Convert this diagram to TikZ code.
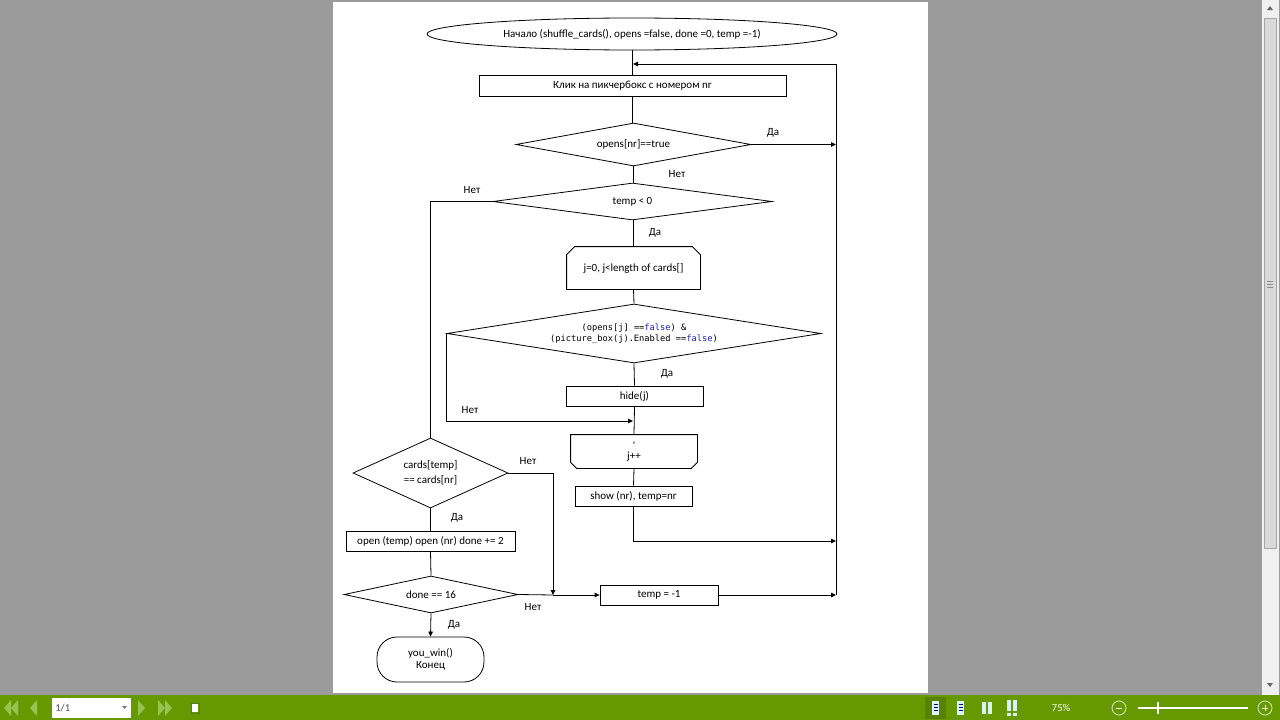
\documentclass[tikz,border=0pt]{standalone}
\usepackage{fontspec}
\setmainfont{Carlito}
\newfontfamily\codefont{DejaVu Sans Mono}
\usetikzlibrary{shapes.geometric,shapes.misc,arrows.meta,calc}
\definecolor{bggray}{RGB}{155,155,155}
\definecolor{barGreen}{RGB}{102,153,0}
\definecolor{iconGreen}{RGB}{150,196,80}
\definecolor{codeBlue}{RGB}{30,30,190}
\newcommand{\fs}{\fontsize{11}{12.5}\selectfont}
\newcommand{\cs}{\codefont\fontsize{8.7}{11}\selectfont}
\newcommand{\kw}[1]{\textcolor{codeBlue}{#1}}
\begin{document}
\begin{tikzpicture}[x=1pt,y=-1pt,line width=0.8pt,
  box/.style={draw, rectangle, inner sep=0pt, font=\fs},
  dia/.style={draw, diamond, inner sep=0pt, font=\fs, align=center},
  ghost/.style={rectangle, inner sep=0pt, font=\fs, align=center},
  lbl/.style={inner sep=0pt, font=\fs},
  arr/.style={-{Triangle[length=5pt,width=4.5pt]}},
  tb/.style={inner sep=0pt, font=\fontsize{10.5}{12}\selectfont}]
% ---------- viewer background ----------
\fill[bggray] (0,0) rectangle (1280,720);
\fill[white] (333,2) rectangle (928,693);
% vertical scrollbar
\fill[black!6] (1262,0) rectangle (1279,695);
\fill[black!15] (1264,18) rectangle (1276,548);
\draw[black!35, line width=0.5pt] (1264,18) rectangle (1276,548);
\draw[black!45, line width=0.5pt] (1267,281) -- (1273,281) (1267,284) -- (1273,284) (1267,287) -- (1273,287);
\fill[black!60] (1267,10) -- (1273,10) -- (1270,6) -- cycle;
\fill[black!60] (1267,683) -- (1273,683) -- (1270,687) -- cycle;
% bottom toolbar
\fill[barGreen] (0,695) rectangle (1280,720);
\fill[iconGreen] (11,700) -- (11,716) -- (4,708) -- cycle;
\fill[iconGreen] (18,700) -- (18,716) -- (11,708) -- cycle;
\fill[iconGreen] (37,700) -- (37,716) -- (30,708) -- cycle;
\fill[white] (52,698) rectangle (131,718);
\node[tb, anchor=west, text=black!70] (pg) at (55,708) {1/1};
\fill[black!50] (122,706) -- (127,706) -- (124.5,709) -- cycle;
\fill[iconGreen] (138,700) -- (138,716) -- (145,708) -- cycle;
\fill[iconGreen] (158,700) -- (158,716) -- (165,708) -- cycle;
\fill[iconGreen] (165,700) -- (165,716) -- (172,708) -- cycle;
\draw[iconGreen!60!black, line width=0.6pt] (191,703) rectangle (199,713);
\fill[white] (192,704) rectangle (198,712);
\fill[barGreen!85!black] (925,697) rectangle (946,719);
\foreach \px in {932,957} {
  \fill[white!85!cyan] (\px,701) rectangle (\px+7,715);
  \foreach \ly in {704,707,710} \draw[blue!50!black, line width=0.5pt] (\px+1.5,\ly) -- (\px+5.5,\ly);
}
\fill[white!85!cyan] (982,702) rectangle (986,714);
\fill[white!85!cyan] (988,702) rectangle (992,714);
\fill[white!85!cyan] (1007,700) rectangle (1011,711);
\fill[white!85!cyan] (1013,700) rectangle (1017,711);
\fill[white!85!cyan] (1007,713) rectangle (1011,716);
\fill[white!85!cyan] (1013,713) rectangle (1017,716);
\node[tb, text=white] (zoomtxt) at (1061,708) {75\%};
\draw[white!80!barGreen, line width=0.8pt] (1119,708) circle (7);
\draw[white, line width=1pt] (1116,708) -- (1122,708);
\draw[white, line width=1.2pt] (1138,708) -- (1248,708);
\draw[white, line width=1.5pt] (1158,702) -- (1158,714);
\draw[white!80!barGreen, line width=0.8pt] (1265,708) circle (7);
\draw[white, line width=1pt] (1262,708) -- (1268,708) (1265,705) -- (1265,711);
% ---------- flowchart nodes ----------
\node[draw, ellipse, minimum width=410pt, minimum height=32pt, inner sep=0pt, font=\fs] (start) at (632,34)
  {Начало (shuffle\_cards(), opens =false, done =0, temp =-1)};
\node[box, minimum width=307pt, minimum height=21pt] (click) at (632.5,85.5) {Клик на пикчербокс с номером nr};
\node[dia, minimum width=235pt, minimum height=43pt, shape aspect=5.5] (d1) at (633.5,144.5) {opens[nr]==true};
\node[dia, minimum width=279pt, minimum height=37pt, shape aspect=7.5] (d2) at (632.5,201.5) {temp < 0};
\node[ghost, minimum width=133pt, minimum height=42pt] (loopA) at (633.5,268) {j=0, j<length of cards[]};
\node[dia, minimum width=374pt, minimum height=59pt, shape aspect=6.3, font=\cs] (d3) at (634,333.5)
  {(opens[j] ==\kw{false}) \&\\(picture\_box(j).Enabled ==\kw{false})};
\node[box, minimum width=137pt, minimum height=20pt] (hide) at (634.5,396) {hide(j)};
\node[ghost, minimum width=126pt, minimum height=33pt] (loopB) at (634,451.5) {`\\[-2pt]j++};
\node[box, minimum width=117pt, minimum height=20pt] (show) at (633.5,496) {show (nr), temp=nr};
\node[dia, minimum width=155pt, minimum height=70pt, shape aspect=2.2] (d4) at (430.5,473) {cards[temp]\\[3pt]== cards[nr]};
\node[box, minimum width=169pt, minimum height=20pt] (open) at (430.5,541) {open (temp) open (nr) done += 2};
\node[dia, minimum width=174pt, minimum height=37pt, shape aspect=4.7] (d5) at (431,594.5) {done == 16};
\node[draw, rectangle, rounded corners=20pt, minimum width=107pt, minimum height=45pt, inner sep=0pt, font=\fs, align=center] (win) at (430.5,659.5) {you\_win()\\Конец};
\node[box, minimum width=118pt, minimum height=20pt] (tmp) at (659,595) {temp = -1};
% chamfered loop boxes
\draw (loopA.south west) -- ($(loopA.north west)+(0,8)$) -- ($(loopA.north west)+(8,0)$)
  -- ($(loopA.north east)+(-8,0)$) -- ($(loopA.north east)+(0,8)$) -- (loopA.south east) -- cycle;
\draw (loopB.north west) -- ($(loopB.south west)+(0,-6)$) -- ($(loopB.south west)+(6,0)$)
  -- ($(loopB.south east)+(-6,0)$) -- ($(loopB.south east)+(0,-6)$) -- (loopB.north east) -- cycle;
% ---------- helper coordinates ----------
\coordinate (railT) at (836,64);
\coordinate (railB) at (836,595);
\coordinate (join1) at (633,64);
\coordinate (join2) at (633,421);
\coordinate (r541) at (836,541);
\coordinate (j3) at (553,595);
% ---------- connectors ----------
\draw (start.south) -- (start.south |- click.north);
\draw (click.south) -- (click.south |- d1.north);
\draw (railB) -- (railT);
\draw[arr] (railT) -- (join1);
\draw[arr] (d1.east) -- (d1.east -| railT);
\draw (d1.south) -- (d1.south |- d2.north);
\draw (d2.west) -| (d4.north);
\draw (d2.south) -- (d2.south -| loopA.north) -- (loopA.north);
\draw (loopA.south) -- (d3.north);
\draw (d3.south) -- (hide.north);
\draw (hide.south) -- (loopB.north);
\draw[arr] (d3.west) |- (join2);
\draw (loopB.south) -- (show.north);
\draw[arr] (show.south) |- (r541);
\draw[arr] (d4.east) -| (j3);
\draw (d4.south) -- (open.north);
\draw (open.south) -- (d5.north);
\draw (d5.east) -- (j3);
\draw[arr] (j3) -- (tmp.west);
\draw[arr] (d5.south) -- (win.north);
\draw[arr] (tmp.east) -- (railB);
% ---------- connector labels ----------
\node[lbl] (l1) at (773,133) {Да};
\node[lbl] (l2) at (677,174) {Нет};
\node[lbl] (l3) at (472,190) {Нет};
\node[lbl] (l4) at (655,233) {Да};
\node[lbl] (l5) at (667,374) {Да};
\node[lbl] (l6) at (470,410) {Нет};
\node[lbl] (l7) at (528,461) {Нет};
\node[lbl] (l8) at (457,518) {Да};
\node[lbl] (l9) at (533,607) {Нет};
\node[lbl] (l10) at (454,625) {Да};
\end{tikzpicture}
\end{document}
